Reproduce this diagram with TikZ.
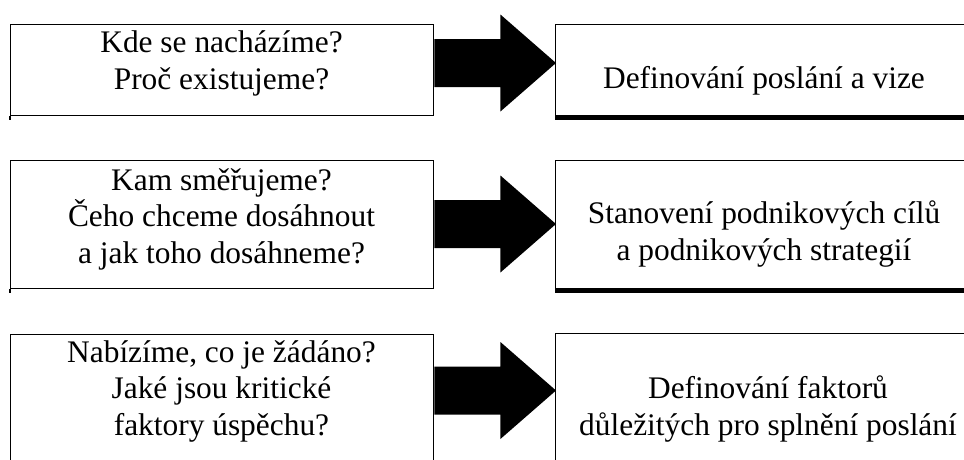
\documentclass[tikz,border=0pt]{standalone}
\usepackage{fontspec}
\setmainfont{Liberation Serif}
\usetikzlibrary{calc}
\newcommand\boxlabelfont{\fontsize{31.4}{36.3}\selectfont\lineskiplimit=-100pt\relax}
\begin{document}
\begin{tikzpicture}[x=1pt,y=-1pt,
  thin line/.style={line width=1.4pt},
  leftbox/.style={draw,thin line,rectangle,inner sep=0pt,anchor=north west,minimum width=423pt},
  rightbox/.style={draw,thin line,rectangle,inner sep=0pt,anchor=north west,minimum width=430pt},
  thickbottom/.style={line width=4pt},
  label/.style={inner sep=0pt,anchor=base,align=center,font=\boxlabelfont},
  blockarrow/.style={fill=black}]
\useasboundingbox[fill=white] (0,0) rectangle (964,459);
\begin{scope}
\clip (0,0) rectangle (964,459);
% left boxes
\node[leftbox,minimum height=91pt] (L1) at (10,24) {};
\node[leftbox,minimum height=128pt] (L2) at (10,160) {};
\node[leftbox,minimum height=140pt] (L3) at (10,334) {};
\draw[thin line] (L1.south west) -- ++(0,4);
\draw[thin line] (L2.south west) -- ++(0,4);
% right boxes
\node[rightbox,minimum height=91pt] (R1) at (555,24) {};
\node[rightbox,minimum height=128pt] (R2) at (555,160) {};
\node[rightbox,minimum height=140pt] (R3) at (555,333) {};
\draw[thickbottom] ($(R1.south west)+(0,2)$) -- ($(R1.south east)+(0,2)$);
\draw[thickbottom] ($(R2.south west)+(0,2)$) -- ($(R2.south east)+(0,2)$);
\end{scope}
% block arrows
\coordinate (s1) at (L1.east |- 0,63);
\coordinate (t1) at (R1.west |- 0,63);
\coordinate (s2) at (L2.east |- 0,224);
\coordinate (t2) at (R2.west |- 0,224);
\coordinate (s3) at (L3.east |- 0,390.5);
\coordinate (t3) at (R3.west |- 0,390.5);
\foreach \i in {1,2,3}{
  \fill[blockarrow] ($(s\i)+(0,-24)$) -- ($(s\i)+(66,-24)$) -- ($(s\i)+(66,-48.5)$)
    -- ($(t\i)+(1,0)$) -- ($(s\i)+(66,48.5)$) -- ($(s\i)+(66,24)$) -- ($(s\i)+(0,24)$) -- cycle;
}
% texts (anchored at the baseline of their last line)
\node[label] (q1) at (221.5,89) {Kde se nacházíme?\\Proč existujeme?};
\node[label] (q2) at (221.5,263) {Kam směřujeme?\\Čeho chceme dosáhnout\\a jak toho dosáhneme?};
\node[label] (q3) at (221.5,435) {Nabízíme, co je žádáno?\\Jaké jsou kritické\\faktory úspěchu?};
\node[label] (a1) at (764,88) {Definování poslání a vize};
\node[label] (a2) at (764,260) {Stanovení podnikových cílů\\a podnikových strategií};
\node[label] (a3) at (768,435) {Definování faktorů\\důležitých pro splnění poslání};
\end{tikzpicture}
\end{document}
